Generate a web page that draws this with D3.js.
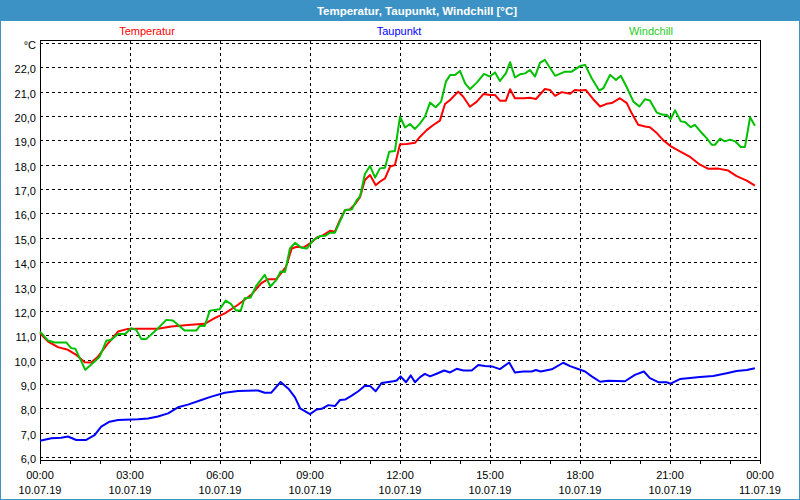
<!DOCTYPE html>
<html>
<head>
<meta charset="utf-8">
<script src="https://cdn.jsdelivr.net/npm/d3@7"></script>
<style>
  body { margin: 0; background: #fff; }
  svg { display: block; font-family: "Liberation Sans", Arial, sans-serif; }
</style>
</head>
<body>
<div id="chart"></div>
<script>
// values: [hour since 10.07.19 00:00, °C]
var temperatur = [
  [0.0, 11.08], [0.27, 10.74], [0.6, 10.51], [0.93, 10.4], [1.21, 10.19], [1.49, 9.89], [1.71, 9.88],
  [1.93, 10.12], [2.27, 10.67], [2.6, 11.15], [2.93, 11.26], [3.27, 11.27], [3.93, 11.27], [4.38, 11.36],
  [4.93, 11.42], [5.49, 11.47], [5.82, 11.7], [6.16, 11.9], [6.6, 12.25], [7.04, 12.66], [7.38, 13.14],
  [7.6, 13.3], [7.88, 13.3], [8.2, 13.81], [8.39, 14.56], [8.56, 14.63], [8.78, 14.6], [9.0, 14.77],
  [9.22, 15.0], [9.44, 15.11], [9.67, 15.29], [9.83, 15.25], [10.0, 15.73], [10.17, 16.14], [10.33, 16.16],
  [10.5, 16.38], [10.67, 16.68], [10.83, 17.37], [11.0, 17.58], [11.19, 17.16], [11.33, 17.3], [11.5, 17.44],
  [11.67, 17.92], [11.83, 17.99], [12.0, 18.84], [12.22, 18.85], [12.5, 18.9], [12.67, 19.15], [12.89, 19.42],
  [13.11, 19.63], [13.33, 19.81], [13.5, 20.49], [13.67, 20.66], [13.94, 21.0], [14.11, 20.79], [14.33, 20.38],
  [14.56, 20.59], [14.78, 20.9], [15.0, 20.86], [15.17, 20.86], [15.33, 20.63], [15.53, 20.63], [15.67, 21.1],
  [15.83, 20.73], [16.11, 20.73], [16.33, 20.75], [16.53, 20.7], [16.83, 21.11], [17.0, 21.07], [17.17, 20.83],
  [17.39, 20.98], [17.67, 20.91], [17.83, 21.07], [18.0, 21.05], [18.19, 21.07], [18.44, 20.69], [18.67, 20.39],
  [18.89, 20.5], [19.06, 20.53], [19.33, 20.73], [19.56, 20.53], [19.72, 20.12], [19.94, 19.64], [20.17, 19.57],
  [20.33, 19.54], [20.56, 19.3], [20.78, 19.0], [21.06, 18.73], [21.33, 18.55], [21.67, 18.32], [22.0, 18.0],
  [22.28, 17.83], [22.61, 17.84], [22.94, 17.76], [23.22, 17.53], [23.56, 17.35], [23.83, 17.14]
];

var taupunkt = [
  [0.0, 6.67], [0.38, 6.77], [0.71, 6.79], [0.93, 6.84], [1.21, 6.7], [1.54, 6.7], [1.82, 6.9], [2.04, 7.25],
  [2.32, 7.45], [2.6, 7.52], [3.27, 7.55], [3.6, 7.58], [3.93, 7.66], [4.27, 7.79], [4.6, 8.04], [4.93, 8.15],
  [5.38, 8.34], [5.71, 8.48], [6.16, 8.64], [6.6, 8.71], [7.27, 8.73], [7.49, 8.64], [7.71, 8.64], [8.02, 9.08],
  [8.3, 8.78], [8.5, 8.45], [8.67, 8.0], [9.0, 7.76], [9.22, 7.95], [9.39, 7.98], [9.61, 8.13], [9.83, 8.09],
  [10.0, 8.34], [10.17, 8.36], [10.39, 8.52], [10.61, 8.7], [10.83, 8.93], [11.0, 8.92], [11.19, 8.7],
  [11.39, 9.04], [11.78, 9.11], [11.89, 9.14], [12.02, 9.31], [12.2, 9.07], [12.36, 9.35], [12.5, 9.07],
  [12.67, 9.28], [12.83, 9.41], [13.0, 9.31], [13.22, 9.42], [13.47, 9.55], [13.67, 9.47], [13.89, 9.62],
  [14.11, 9.55], [14.39, 9.55], [14.61, 9.78], [14.83, 9.74], [15.06, 9.72], [15.33, 9.61], [15.64, 9.88],
  [15.83, 9.47], [16.11, 9.51], [16.39, 9.51], [16.53, 9.57], [16.69, 9.51], [17.06, 9.6], [17.44, 9.87],
  [17.67, 9.73], [18.17, 9.51], [18.39, 9.31], [18.67, 9.09], [18.94, 9.13], [19.5, 9.11], [19.83, 9.37],
  [20.13, 9.51], [20.33, 9.24], [20.61, 9.07], [20.89, 9.07], [21.02, 9.01], [21.33, 9.2], [21.67, 9.24],
  [22.0, 9.28], [22.44, 9.33], [22.89, 9.44], [23.22, 9.53], [23.56, 9.57], [23.83, 9.64]
];

var windchill = [
  [0.0, 11.15], [0.27, 10.78], [0.49, 10.7], [0.88, 10.7], [1.04, 10.47], [1.18, 10.44], [1.51, 9.58],
  [1.82, 9.92], [1.99, 10.12], [2.21, 10.77], [2.38, 10.81], [2.6, 11.05], [2.84, 11.05], [3.04, 11.29],
  [3.21, 11.22], [3.38, 10.84], [3.54, 10.84], [3.88, 11.22], [4.21, 11.63], [4.43, 11.6], [4.82, 11.19],
  [5.21, 11.19], [5.32, 11.38], [5.49, 11.38], [5.66, 12.01], [5.99, 12.07], [6.19, 12.42], [6.36, 12.29],
  [6.54, 12.01], [6.69, 12.01], [6.82, 12.52], [7.02, 12.55], [7.21, 13.03], [7.49, 13.48], [7.68, 13.0],
  [7.88, 13.27], [8.02, 13.62], [8.17, 13.6], [8.33, 14.56], [8.5, 14.79], [8.72, 14.59], [8.89, 14.56],
  [9.11, 14.9], [9.33, 15.07], [9.5, 15.08], [9.67, 15.21], [9.83, 15.21], [10.17, 16.14], [10.39, 16.16],
  [10.56, 16.55], [10.67, 16.71], [10.83, 17.62], [11.0, 17.95], [11.17, 17.47], [11.33, 17.85], [11.5, 17.88],
  [11.64, 18.53], [11.83, 18.56], [12.0, 19.97], [12.17, 19.53], [12.33, 19.67], [12.5, 19.47], [12.67, 19.7],
  [12.83, 19.97], [13.0, 20.55], [13.19, 20.36], [13.37, 20.59], [13.53, 21.41], [13.67, 21.68], [13.83, 21.68],
  [14.0, 21.85], [14.17, 21.34], [14.33, 21.1], [14.56, 21.37], [14.8, 21.73], [15.0, 21.62], [15.17, 21.79],
  [15.33, 21.44], [15.53, 21.75], [15.67, 22.21], [15.83, 21.58], [16.0, 21.71], [16.17, 21.75], [16.33, 21.89],
  [16.5, 21.62], [16.67, 22.19], [16.83, 22.3], [17.17, 21.65], [17.5, 21.82], [17.72, 21.82], [18.0, 22.05],
  [18.17, 22.1], [18.39, 21.55], [18.64, 21.05], [18.78, 21.14], [19.0, 21.69], [19.2, 21.48], [19.36, 21.65],
  [19.56, 21.18], [19.78, 20.59], [19.98, 20.39], [20.17, 20.69], [20.33, 20.64], [20.56, 20.14], [20.76, 20.05],
  [20.89, 20.05], [21.02, 19.87], [21.17, 20.23], [21.36, 19.78], [21.5, 19.75], [21.69, 19.54], [21.83, 19.64],
  [22.06, 19.3], [22.22, 19.09], [22.39, 18.82], [22.5, 18.82], [22.67, 19.07], [22.83, 18.96], [23.0, 19.03],
  [23.17, 18.96], [23.36, 18.73], [23.5, 18.73], [23.67, 19.95], [23.83, 19.6]
];

var yTicks = [6, 7, 8, 9, 10, 11, 12, 13, 14, 15, 16, 17, 18, 19, 20, 21, 22, 23];
var xTickHours = [0, 3, 6, 9, 12, 15, 18, 21, 24];
var xTimeLabels = ["00:00", "03:00", "06:00", "09:00", "12:00", "15:00", "18:00", "21:00", "00:00"];
var xDateLabels = ["10.07.19", "10.07.19", "10.07.19", "10.07.19", "10.07.19", "10.07.19", "10.07.19", "10.07.19", "11.07.19"];

var W = 800, H = 500;
var barColor = "#3c92c4";

var svg = d3.select("#chart").append("svg")
    .attr("width", W)
    .attr("height", H);

//title bar
svg.append("rect")
    .attr("x", 0).attr("y", 0)
    .attr("width", W).attr("height", 21)
    .attr("fill", barColor);

svg.append("text")
    .attr("x", 417)
    .attr("y", 15)
    .attr("text-anchor", "middle")
    .attr("fill", "#fff")
    .style("font-size", "11.5px")
    .style("font-weight", "bold")
    .text("Temperatur, Taupunkt, Windchill [°C]");

//window border
svg.append("rect")
    .attr("x", 0.5).attr("y", 0.5)
    .attr("width", W - 1).attr("height", H - 1)
    .attr("fill", "none")
    .attr("stroke", barColor);

//scales
var x = d3.scaleLinear().domain([0, 24]).range([40, 760]);
var y = d3.scaleLinear().domain([5.877, 23.1]).range([460, 40.5]);

//legend
var legend = [
  {name: "Temperatur", x: 147, color: "#ff0000"},
  {name: "Taupunkt", x: 399, color: "#0000ff"},
  {name: "Windchill", x: 651, color: "#22cc22"}
];
svg.selectAll(".legend")
    .data(legend)
    .enter().append("text")
    .attr("x", (d) => d.x)
    .attr("y", 35)
    .attr("text-anchor", "middle")
    .attr("fill", (d) => d.color)
    .style("font-size", "11px")
    .text((d) => d.name);

//horizontal grid
svg.append("g")
    .selectAll("line")
    .data(yTicks)
    .enter().append("line")
    .attr("x1", x(0)).attr("x2", x(24))
    .attr("y1", (d) => Math.round(y(d)) + 0.5)
    .attr("y2", (d) => Math.round(y(d)) + 0.5)
    .attr("stroke", "#000")
    .attr("stroke-dasharray", "3,3")
    .attr("shape-rendering", "crispEdges");

//vertical grid
svg.append("g")
    .selectAll("line")
    .data(xTickHours.slice(1, -1))
    .enter().append("line")
    .attr("x1", (d) => Math.round(x(d)) + 0.5)
    .attr("x2", (d) => Math.round(x(d)) + 0.5)
    .attr("y1", y.range()[1]).attr("y2", y.range()[0])
    .attr("stroke", "#000")
    .attr("stroke-dasharray", "3,3")
    .attr("shape-rendering", "crispEdges");

//y labels
svg.append("g")
    .selectAll("text")
    .data(yTicks)
    .enter().append("text")
    .attr("x", 36)
    .attr("y", (d) => y(d) + 6)
    .attr("text-anchor", "end")
    .attr("fill", "#000")
    .style("font-size", "11px")
    .text((d) => d === 23 ? "°C" : d.toFixed(1).replace(".", ","));

//x axis with hourly ticks
var xAxis = d3.axisBottom(x)
    .tickValues(d3.range(0, 25))
    .tickSize(4)
    .tickFormat("");
svg.append("g")
    .attr("transform", "translate(0,460)")
    .call(xAxis)
    .call((g) => g.select(".domain").remove());

svg.append("g")
    .selectAll("text")
    .data(xTickHours)
    .enter().append("text")
    .attr("x", (d) => x(d))
    .attr("y", 479)
    .attr("text-anchor", "middle")
    .style("font-size", "11px")
    .text((d, i) => xTimeLabels[i]);

svg.append("g")
    .selectAll("text")
    .data(xTickHours)
    .enter().append("text")
    .attr("x", (d) => x(d))
    .attr("y", 494)
    .attr("text-anchor", "middle")
    .style("font-size", "11px")
    .text((d, i) => xDateLabels[i]);

//plot frame
svg.append("rect")
    .attr("x", 40.5).attr("y", 40.5)
    .attr("width", 720).attr("height", 419.5)
    .attr("fill", "none")
    .attr("stroke", "#000")
    .attr("shape-rendering", "crispEdges");

//series
var line = d3.line()
    .x((d) => x(d[0]))
    .y((d) => y(d[1]));

var series = [
  {data: taupunkt, color: "#0000ff"},
  {data: temperatur, color: "#ff0000"},
  {data: windchill, color: "#00c000"}
];
series.forEach((s) => {
  svg.append("path")
      .datum(s.data)
      .attr("d", line)
      .attr("fill", "none")
      .attr("stroke", s.color)
      .attr("stroke-width", 2)
      .attr("stroke-linejoin", "round");
});
</script>
</body>
</html>
